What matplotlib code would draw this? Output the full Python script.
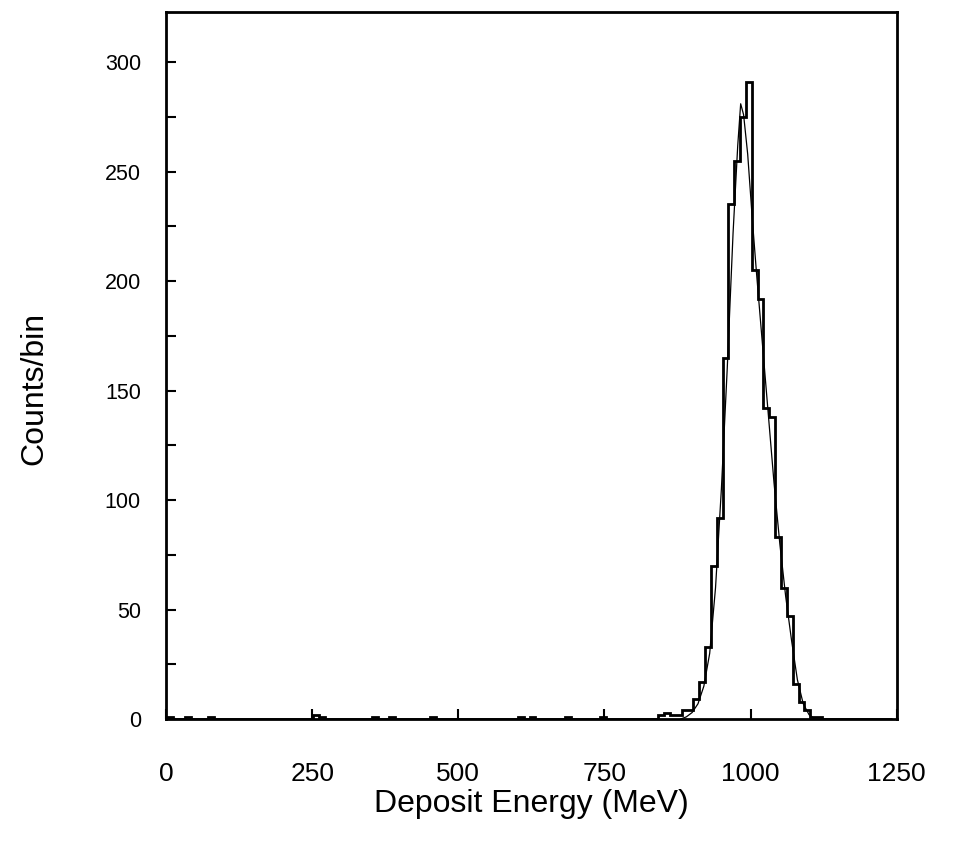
import numpy as np
import matplotlib
matplotlib.use('Agg')
import matplotlib.pyplot as plt
from matplotlib.ticker import MultipleLocator

plt.rcParams['font.family'] = ['Liberation Sans', 'DejaVu Sans']

# histogram: 10 MeV bins, left edges of non-empty bins and their counts
bin_width = 10
peak_left = [842, 852, 862, 872, 882, 892, 902, 912, 922, 932, 942, 952, 962, 972,
             982, 992, 1002, 1012, 1022, 1032, 1042, 1052, 1062, 1072, 1082, 1092,
             1102, 1112]
peak_counts = [2, 3, 2, 2, 4, 4, 9, 17, 33, 70, 92, 165, 235, 255,
               275, 291, 205, 192, 142, 138, 83, 60, 47, 16, 8, 4,
               1, 1]

# scattered low-energy entries
low_left = [2, 32, 72, 252, 262, 352, 382, 452, 602, 622, 682, 742]
low_counts = [1, 1, 1, 2, 1, 1, 1, 1, 1, 1, 1, 1]

# fitted curve
fit_e = [880, 890, 900, 910, 920, 930, 940, 950, 960, 970, 978, 983, 988, 995,
         1003, 1010, 1020, 1030, 1040, 1050, 1060, 1070, 1080, 1090, 1100, 1110]
fit_n = [0, 1, 3, 7, 15, 30, 60, 105, 160, 222, 262, 281, 276, 258,
         228, 204, 172, 140, 108, 80, 56, 36, 18, 7, 2, 0]

edges = np.arange(2, 1252, bin_width)
counts = np.zeros(len(edges) - 1)
for left, c in zip(low_left + peak_left, low_counts + peak_counts):
    counts[(left - 2) // bin_width] = c

fig = plt.figure(figsize=(9.54, 8.43), dpi=100)
ax = fig.add_axes([0.174, 0.147, 0.766, 0.839])

ax.stairs(counts, edges, color='black', linewidth=2.0)
ax.plot(fit_e, fit_n, color='black', linewidth=0.9)

ax.set_xlim(0, 1250)
ax.set_ylim(0, 323)
ax.set_xticks([0, 250, 500, 750, 1000, 1250])
ax.set_yticks([0, 50, 100, 150, 200, 250, 300])
ax.yaxis.set_minor_locator(MultipleLocator(25))

ax.tick_params(axis='both', which='major', direction='in', length=7, width=1.5)
ax.tick_params(axis='y', which='minor', direction='in', length=7, width=1.5)
ax.tick_params(axis='x', labelsize=19, pad=31)
ax.tick_params(axis='y', labelsize=15.5, pad=18)

for s in ax.spines.values():
    s.set_linewidth(2.0)

ax.set_xlabel('Deposit Energy (MeV)', fontsize=23, labelpad=2)
ax.set_ylabel('Counts/bin', fontsize=23)
ax.yaxis.set_label_coords(-0.16, 0.468)

fig.savefig('out.png', dpi=100)
